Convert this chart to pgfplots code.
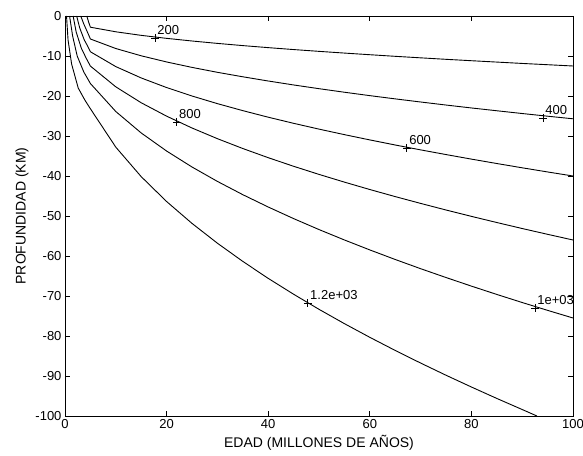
\documentclass[border=0pt]{standalone}
\usepackage{pgfplots}
\pgfplotsset{compat=1.18}
\usepackage{fontspec}
\setmainfont{Liberation Sans}

\begin{document}
\begin{tikzpicture}
\begin{axis}[
    width=508pt, height=400pt, scale only axis,
    xmin=0, xmax=100, ymin=-100, ymax=0,
    xtick={0,20,...,100}, ytick={-100,-90,...,0},
    tick align=inside, major tick length=5pt,
    tick style={black, line width=0.8pt},
    axis line style={line width=0.9pt},
    /pgf/number format/assume math mode=true,
    tick label style={font=\fontsize{13}{15}\selectfont},
    label style={font=\fontsize{14}{16}\selectfont},
    xlabel={EDAD (MILLONES DE AÑOS)},
    ylabel={PROFUNDIDAD (KM)},
    clip=false,
    iso/.style={black, solid, no markers, line width=0.9pt, line join=round},
]
% isotherm 200
\addplot[iso] coordinates {(4.3,0) (4.62,-1.4) (5,-2.8) (10,-3.95) (15,-4.84) (20,-5.59)
  (25,-6.25) (30,-6.85) (35,-7.40) (40,-7.91) (45,-8.39) (50,-8.84) (55,-9.27)
  (60,-9.68) (65,-10.08) (70,-10.46) (75,-10.83) (80,-11.18) (85,-11.52)
  (90,-11.86) (95,-12.18) (100,-12.5)};
% isotherm 400
\addplot[iso] coordinates {(3.1,0) (3.7,-2) (4.4,-4) (4.75,-5) (5,-5.75) (10,-8.13)
  (15,-9.95) (20,-11.49) (25,-12.85) (30,-14.08) (35,-15.20) (40,-16.25)
  (45,-17.24) (50,-18.17) (55,-19.06) (60,-19.91) (65,-20.72) (70,-21.50)
  (75,-22.26) (80,-22.99) (85,-23.69) (90,-24.38) (95,-25.05) (100,-25.7)};
% isotherm 600
\addplot[iso] coordinates {(2.3,0) (2.9,-3) (3.8,-6) (4.45,-7.5) (5,-8.94) (10,-12.65)
  (15,-15.49) (20,-17.89) (25,-20.00) (30,-21.91) (35,-23.66) (40,-25.30)
  (45,-26.83) (50,-28.28) (55,-29.66) (60,-30.98) (65,-32.25) (70,-33.47)
  (75,-34.64) (80,-35.78) (85,-36.88) (90,-37.95) (95,-38.99) (100,-40)};
% isotherm 800
\addplot[iso] coordinates {(1.6,0) (2.2,-4) (3.2,-8) (4.15,-10.5) (5,-12.52) (10,-17.71)
  (15,-21.69) (20,-25.04) (25,-28.00) (30,-30.67) (35,-33.13) (40,-35.42)
  (45,-37.57) (50,-39.60) (55,-41.53) (60,-43.38) (65,-45.15) (70,-46.85)
  (75,-48.50) (80,-50.09) (85,-51.63) (90,-53.13) (95,-54.58) (100,-56)};
% isotherm 1000
\addplot[iso] coordinates {(0.9,0) (1.5,-5) (2.4,-10) (3.7,-14) (5,-16.88) (10,-23.88)
  (15,-29.24) (20,-33.76) (25,-37.75) (30,-41.35) (35,-44.67) (40,-47.75)
  (45,-50.65) (50,-53.39) (55,-55.99) (60,-58.48) (65,-60.87) (70,-63.17)
  (75,-65.38) (80,-67.53) (85,-69.61) (90,-71.63) (95,-73.59) (100,-75.5)};
% isotherm 1200
\addplot[iso] coordinates {(0.3,0) (0.6,-6) (1.3,-12) (2.6,-18) (3.9,-21) (5,-23.19)
  (10,-32.79) (15,-40.16) (20,-46.38) (25,-51.85) (30,-56.80) (35,-61.35)
  (40,-65.59) (45,-69.56) (50,-73.33) (55,-76.91) (60,-80.33) (65,-83.61)
  (70,-86.76) (75,-89.81) (80,-92.75) (85,-95.61) (90,-98.38) (92.9,-100)};
% contour labels
\addplot[black, only marks, mark=+, mark size=4pt, line width=0.8pt,
    point meta=explicit symbolic, nodes near coords,
    nodes near coords style={anchor=south west, inner sep=0pt,
      xshift=2pt, yshift=3pt, font=\fontsize{13}{15}\selectfont}]
  coordinates {(17.7,-5.5) [200] (94.1,-25.5) [400] (67.3,-33) [600]
  (22,-26.5) [800] (92.5,-73) [1e+03] (47.8,-71.8) [1.2e+03]};
\coordinate (sw) at (rel axis cs:0,0);
\coordinate (ne) at (rel axis cs:1,1);
\end{axis}
\pgfresetboundingbox
\path[use as bounding box] ([shift={(-65pt,-39pt)}]sw) rectangle ([shift={(10pt,16pt)}]ne);
\end{tikzpicture}
\end{document}
